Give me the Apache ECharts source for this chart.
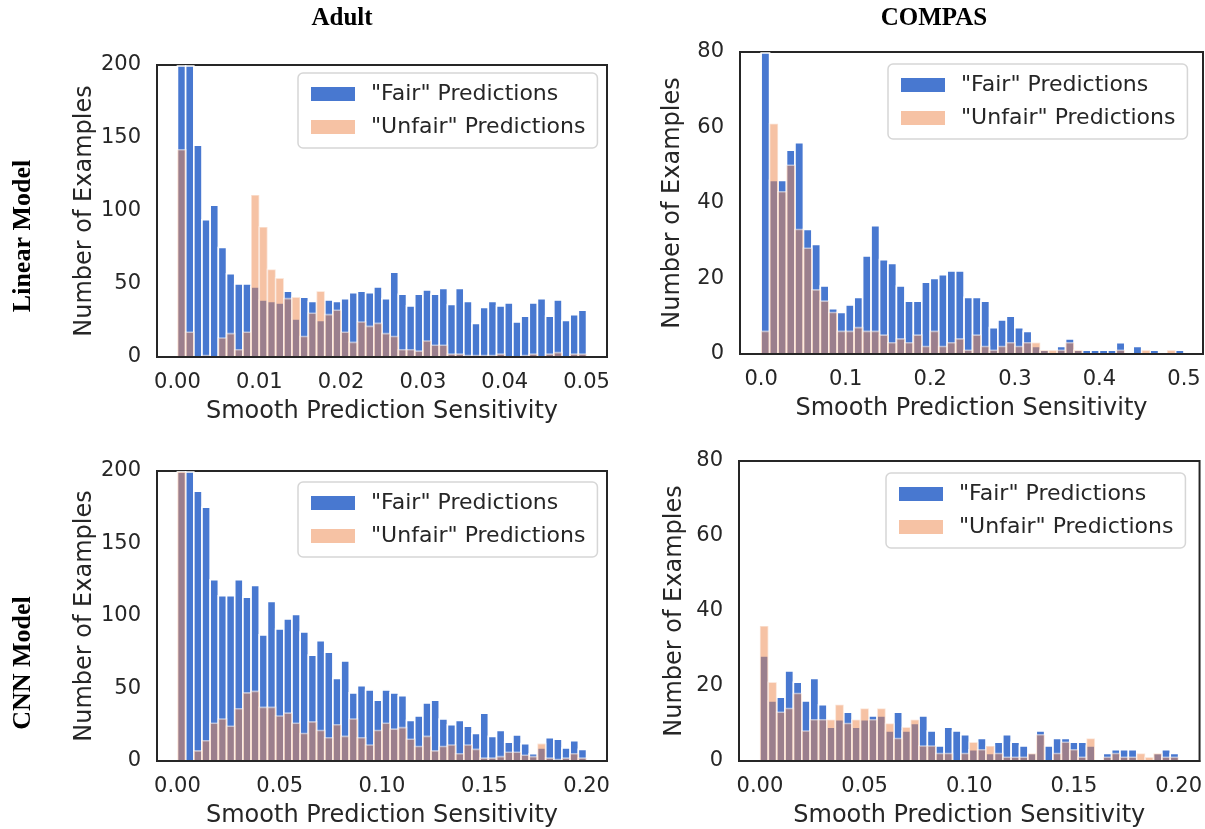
<!DOCTYPE html>
<html>
<head>
<meta charset="utf-8">
<script src="https://cdn.jsdelivr.net/npm/echarts@6/dist/echarts.min.js"></script>
<style>
html, body { margin: 0; padding: 0; background: #fff; }
#main { width: 1205px; height: 829px; }
</style>
</head>
<body>
<div id="main"></div>
<script>
// histogram counts, 50 bins per panel
var adultLinearFair = [240, 230, 145, 94, 104, 75, 57, 50, 50, 48, 39, 38, 37, 45, 26, 41, 38, 25, 39, 38,
    40, 44, 45, 44, 48, 40, 58, 43, 35, 43, 46, 43, 47, 36, 47, 38, 23, 34, 38, 35,
    37, 24, 28, 37, 40, 28, 39, 25, 29, 32];
var adultLinearUnfair = [142, 17, 0, 1, 0, 13, 16, 5, 17, 111, 89, 60, 54, 40, 41, 14, 30, 45, 29, 32,
    17, 10, 24, 21, 23, 16, 14, 5, 5, 4, 11, 8, 8, 2, 2, 1, 1, 1, 1, 2,
    0, 0, 1, 2, 0, 2, 3, 0, 2, 2];

var compasLinearFair = [85, 46, 46, 54, 56, 33, 29, 18, 12, 11, 13, 15, 26, 34, 25, 24, 18, 14, 14, 19,
    20, 21, 22, 22, 15, 15, 14, 7, 9, 10, 7, 6, 2, 1, 0, 2, 4, 1, 1, 1,
    1, 1, 3, 0, 2, 0, 1, 0, 0, 1];
var compasLinearUnfair = [6, 61, 43, 50, 33, 28, 17, 14, 11, 6, 6, 7, 6, 6, 5, 3, 4, 3, 5, 2,
    6, 2, 3, 4, 1, 5, 2, 1, 2, 3, 2, 3, 3, 1, 1, 1, 3, 1, 0, 0,
    0, 0, 1, 0, 0, 1, 0, 0, 1, 0];

var adultCnnFair = [320, 260, 186, 175, 125, 114, 114, 125, 113, 121, 87, 110, 91, 98, 101, 89, 73, 83, 75, 57,
    69, 47, 52, 49, 42, 49, 47, 45, 28, 31, 40, 42, 29, 25, 28, 24, 19, 33, 17, 21,
    13, 18, 12, 5, 9, 16, 15, 9, 14, 8];
var adultCnnUnfair = [280, 0, 7, 14, 26, 29, 24, 36, 47, 48, 37, 37, 31, 33, 26, 19, 27, 21, 16, 25,
    17, 29, 16, 11, 21, 26, 22, 23, 15, 10, 17, 7, 10, 11, 5, 11, 8, 2, 2, 3,
    6, 6, 4, 3, 12, 2, 1, 2, 5, 2];

var compasCnnFair = [28, 16, 17, 24, 21, 16, 22, 15, 9, 11, 13, 9, 11, 12, 12, 8, 13, 8, 10, 12,
    8, 4, 9, 8, 7, 3, 6, 2, 5, 7, 5, 4, 2, 8, 4, 6, 6, 5, 5, 4,
    0, 2, 3, 3, 3, 0, 0, 2, 3, 2];
var compasCnnUnfair = [36, 21, 13, 14, 18, 8, 11, 11, 11, 15, 10, 11, 14, 11, 14, 10, 6, 9, 11, 4,
    4, 2, 2, 0, 2, 5, 3, 4, 2, 1, 1, 1, 2, 7, 0, 2, 5, 3, 1, 6,
    0, 1, 2, 1, 1, 2, 1, 2, 1, 1];

// bin widths (bins start at 0)
var adultLinearBinWidth = 0.001;
var compasLinearBinWidth = 0.01;
var adultCnnBinWidth = 0.004;
var compasCnnBinWidth = 0.004;

// tick labels
var adultLinearTicks = [0, 0.01, 0.02, 0.03, 0.04, 0.05];
var compasLinearTicks = [0, 0.1, 0.2, 0.3, 0.4, 0.5];
var cnnTicks = [0, 0.05, 0.10, 0.15, 0.20];

var fairName = '"Fair" Predictions';
var unfairName = '"Unfair" Predictions';
var textColor = '#262626';

var myChart = echarts.init(document.getElementById('main'));

function histSeries(name, idx, width, counts, color, opacity, z) {
    return {
        type: 'custom',
        name: name,
        xAxisIndex: idx,
        yAxisIndex: idx,
        z: z,
        data: counts.map(function (c, i) { return [i * width, (i + 1) * width, c]; }),
        encode: { x: [0, 1], y: 2 },
        renderItem: function (params, api) {
            if (api.value(2) <= 0) return null;
            var cs = params.coordSys;
            var p0 = api.coord([api.value(0), 0]);
            var p1 = api.coord([api.value(1), api.value(2)]);
            var top = Math.max(p1[1], cs.y + 1);
            return {
                type: 'rect',
                shape: { x: p0[0], y: top, width: p1[0] - p0[0], height: p0[1] - top },
                style: { fill: color, stroke: '#ffffff', lineWidth: 1.6, opacity: opacity }
            };
        }
    };
}

function xAxisOf(idx, min, max, ticks, digits) {
    return {
        type: 'value', gridIndex: idx, min: min, max: max, z: 10,
        name: 'Smooth Prediction Sensitivity', nameLocation: 'middle', nameGap: 43,
        nameTextStyle: { fontSize: 24, color: textColor, fontFamily: 'DejaVu Sans' },
        axisLine: { show: true, onZero: false, lineStyle: { color: textColor, width: 2 } },
        axisTick: { show: false },
        splitLine: { show: false },
        axisLabel: {
            customValues: ticks, margin: 15, fontSize: 21, color: textColor, fontFamily: 'DejaVu Sans',
            formatter: function (v) { return v.toFixed(digits); }
        }
    };
}

function yAxisOf(idx, max, interval, gap) {
    return {
        type: 'value', gridIndex: idx, min: 0, max: max, interval: interval, z: 10,
        name: 'Number of Examples', nameLocation: 'middle', nameGap: gap,
        nameTextStyle: { fontSize: 24, color: textColor, fontFamily: 'DejaVu Sans' },
        axisLine: { show: true, onZero: false, lineStyle: { color: textColor, width: 2 } },
        axisTick: { show: false },
        splitLine: { show: false },
        axisLabel: { margin: 16, fontSize: 21, color: textColor, fontFamily: 'DejaVu Sans' }
    };
}

function legendAt(left, top) {
    return {
        left: left, top: top, orient: 'vertical', icon: 'rect',
        itemWidth: 44, itemHeight: 14, itemGap: 11, padding: [10, 12, 10, 13],
        backgroundColor: 'rgba(255,255,255,0.8)', borderColor: '#d6d6d6', borderWidth: 1.5, borderRadius: 5,
        selectedMode: false,
        textStyle: { fontSize: 22, color: textColor, fontFamily: 'DejaVu Sans', padding: [0, 0, 0, 11] },
        data: [
            { name: fairName, itemStyle: { color: '#4878d0' } },
            { name: unfairName, itemStyle: { color: '#f6c2a4' } }
        ]
    };
}

var gridStyle = { show: true, borderColor: textColor, borderWidth: 2, backgroundColor: 'transparent' };

var titleFont = { fontWeight: 'bold', fontFamily: 'Liberation Serif', fill: '#000', align: 'center', verticalAlign: 'middle' };

var option = {
    backgroundColor: '#ffffff',
    animation: false,
    grid: [
        Object.assign({ left: 157, top: 65, width: 450, height: 292 }, gridStyle),
        Object.assign({ left: 740, top: 52, width: 463, height: 302 }, gridStyle),
        Object.assign({ left: 157, top: 471, width: 450, height: 291 }, gridStyle),
        Object.assign({ left: 739, top: 461, width: 462, height: 300 }, gridStyle)
    ],
    xAxis: [
        xAxisOf(0, -0.0025, 0.0525, adultLinearTicks, 2),
        xAxisOf(1, -0.025, 0.5225, compasLinearTicks, 1),
        xAxisOf(2, -0.01, 0.21, cnnTicks, 2),
        xAxisOf(3, -0.01, 0.21, cnnTicks, 2)
    ],
    yAxis: [
        yAxisOf(0, 200, 50, 58),
        yAxisOf(1, 80, 20, 55),
        yAxisOf(2, 200, 50, 58),
        yAxisOf(3, 80, 20, 52)
    ],
    legend: [
        legendAt(298, 73),
        legendAt(888, 64),
        legendAt(298, 482),
        legendAt(886, 473)
    ],
    graphic: [
        { type: 'text', x: 342, y: 19, style: Object.assign({ text: 'Adult', fontSize: 25 }, titleFont) },
        { type: 'text', x: 934, y: 19, style: Object.assign({ text: 'COMPAS', fontSize: 25 }, titleFont) },
        { type: 'text', x: 23, y: 236, rotation: Math.PI / 2, style: Object.assign({ text: 'Linear Model', fontSize: 26 }, titleFont) },
        { type: 'text', x: 23, y: 663, rotation: Math.PI / 2, style: Object.assign({ text: 'CNN Model', fontSize: 26 }, titleFont) }
    ],
    series: [
        histSeries(fairName, 0, adultLinearBinWidth, adultLinearFair, '#4878d0', 1, 2),
        histSeries(unfairName, 0, adultLinearBinWidth, adultLinearUnfair, '#ee854a', 0.5, 3),
        histSeries(fairName, 1, compasLinearBinWidth, compasLinearFair, '#4878d0', 1, 2),
        histSeries(unfairName, 1, compasLinearBinWidth, compasLinearUnfair, '#ee854a', 0.5, 3),
        histSeries(fairName, 2, adultCnnBinWidth, adultCnnFair, '#4878d0', 1, 2),
        histSeries(unfairName, 2, adultCnnBinWidth, adultCnnUnfair, '#ee854a', 0.5, 3),
        histSeries(fairName, 3, compasCnnBinWidth, compasCnnFair, '#4878d0', 1, 2),
        histSeries(unfairName, 3, compasCnnBinWidth, compasCnnUnfair, '#ee854a', 0.5, 3)
    ]
};

myChart.setOption(option);
</script>
</body>
</html>
